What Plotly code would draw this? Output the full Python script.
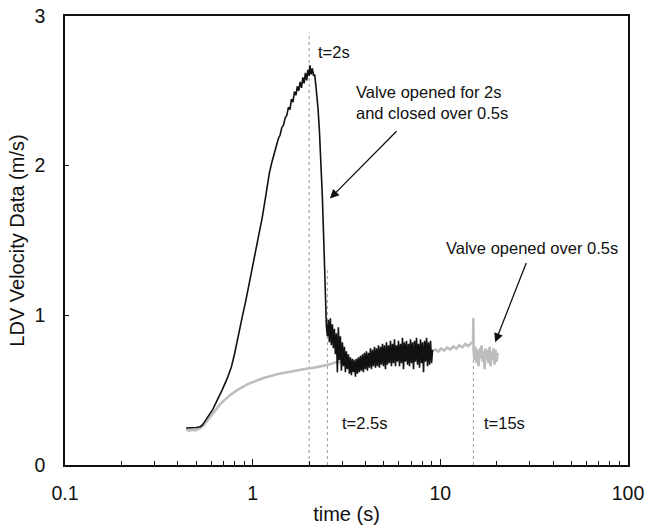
import math
import plotly.graph_objects as go

# ---- LDV velocity record: valve opened for 2 s, then closed over 0.5 s ----
rise_t = [0.442, 0.470, 0.500, 0.525, 0.540, 0.555, 0.575, 0.595, 0.612, 0.640,
          0.665, 0.690, 0.730, 0.770, 0.800, 0.828, 0.855, 0.880, 0.920, 0.960,
          1.000, 1.040, 1.080, 1.125, 1.175, 1.227, 1.270, 1.300, 1.320, 1.340,
          1.370, 1.400, 1.430, 1.460, 1.490, 1.520, 1.550, 1.580, 1.610, 1.640,
          1.670, 1.700, 1.730, 1.760, 1.790, 1.820, 1.850, 1.880, 1.910, 1.940,
          1.970, 2.000, 2.020, 2.050, 2.080, 2.110, 2.140, 2.170, 2.200, 2.230,
          2.267, 2.310, 2.352, 2.410, 2.450]
rise_v = [0.247, 0.248, 0.251, 0.256, 0.268, 0.290, 0.318, 0.345, 0.370, 0.420,
          0.460, 0.505, 0.575, 0.655, 0.740, 0.835, 0.910, 0.990, 1.100, 1.215,
          1.320, 1.420, 1.530, 1.655, 1.800, 1.950, 2.030, 2.080, 2.115, 2.130,
          2.180, 2.205, 2.255, 2.270, 2.320, 2.335, 2.390, 2.375, 2.445, 2.425,
          2.495, 2.470, 2.530, 2.500, 2.560, 2.520, 2.590, 2.550, 2.620, 2.570,
          2.640, 2.600, 2.670, 2.610, 2.650, 2.600, 2.610, 2.540, 2.470, 2.380,
          2.240, 2.020, 1.790, 1.370, 1.050]

settle_t = [2.470, 2.501, 2.531, 2.563, 2.594, 2.626, 2.659, 2.692, 2.725, 2.759,
            2.793, 2.827, 2.862, 2.898, 2.934, 2.970, 3.007, 3.044, 3.082, 3.120,
            3.158, 3.197, 3.237, 3.277, 3.317, 3.358, 3.400, 3.442, 3.485, 3.528,
            3.571, 3.615, 3.660, 3.705, 3.751, 3.797, 3.844, 3.892, 3.940, 3.989,
            4.038, 4.088, 4.139, 4.190, 4.242, 4.294, 4.347, 4.401, 4.456, 4.511,
            4.566, 4.623, 4.680, 4.738, 4.797, 4.856, 4.916, 4.977, 5.038, 5.101,
            5.164, 5.228, 5.292, 5.358, 5.424, 5.491, 5.559, 5.628, 5.697, 5.768,
            5.839, 5.911, 5.984, 6.058, 6.133, 6.209, 6.286, 6.364, 6.442, 6.522,
            6.603, 6.684, 6.767, 6.850, 6.935, 7.021, 7.108, 7.196, 7.285, 7.375,
            7.466, 7.558, 7.652, 7.746, 7.842, 7.939, 8.037, 8.137, 8.237, 8.339,
            8.442, 8.547, 8.652, 8.759, 8.868, 8.977, 9.088]
settle_v = [0.93, 0.86, 0.97, 0.82, 0.98, 0.80, 0.94, 0.78, 0.91, 0.74,
            0.88, 0.62, 0.92, 0.70, 0.86, 0.63, 0.82, 0.66, 0.79, 0.62,
            0.76, 0.64, 0.74, 0.61, 0.72, 0.60, 0.71, 0.62, 0.70, 0.59,
            0.71, 0.61, 0.72, 0.62, 0.73, 0.63, 0.74, 0.62, 0.75, 0.64,
            0.76, 0.63, 0.75, 0.65, 0.78, 0.64, 0.77, 0.66, 0.79, 0.65,
            0.78, 0.66, 0.80, 0.65, 0.79, 0.67, 0.81, 0.66, 0.80, 0.64,
            0.82, 0.67, 0.80, 0.68, 0.83, 0.66, 0.81, 0.68, 0.84, 0.66,
            0.80, 0.69, 0.83, 0.66, 0.81, 0.68, 0.85, 0.64, 0.82, 0.69,
            0.83, 0.67, 0.81, 0.66, 0.84, 0.68, 0.82, 0.64, 0.83, 0.69,
            0.85, 0.67, 0.81, 0.65, 0.84, 0.68, 0.82, 0.62, 0.83, 0.69,
            0.85, 0.66, 0.82, 0.67, 0.83, 0.68, 0.77]

# ---- LDV velocity record: valve opened over 0.5 s ----
open_t = [0.442, 0.459, 0.476, 0.494, 0.512, 0.531, 0.551, 0.572, 0.593, 0.616,
          0.639, 0.663, 0.688, 0.713, 0.740, 0.768, 0.797, 0.827, 0.858, 0.890,
          0.923, 0.958, 0.994, 1.031, 1.070, 1.110, 1.152, 1.195, 1.240, 1.286,
          1.334, 1.384, 1.436, 1.490, 1.546, 1.604, 1.664, 1.727, 1.791, 1.859,
          1.928, 2.001, 2.076, 2.154, 2.234, 2.318, 2.405, 2.495, 2.589, 2.686,
          2.787, 2.891, 3.000, 3.112, 3.229, 3.350, 3.476, 3.606, 3.741, 3.882,
          4.027, 4.178, 4.335, 4.498, 4.666, 4.841, 5.023, 5.211, 5.407, 5.609,
          5.820, 6.038, 6.265, 6.500, 6.743, 6.996, 7.259, 7.531, 7.814, 8.107,
          8.411, 8.726, 9.054, 9.393, 9.745, 10.11, 10.49, 10.88, 11.29, 11.72,
          12.16, 12.61, 13.08, 13.57, 14.08, 14.61, 14.95, 15.00,
          15.03, 15.22, 15.40, 15.59, 15.79, 15.98, 16.18, 16.38, 16.58, 16.79,
          17.00, 17.21, 17.42, 17.64, 17.85, 18.07, 18.30, 18.52, 18.75, 18.98,
          19.22, 19.46, 19.70, 19.94, 20.19]
open_v = [0.235, 0.230, 0.236, 0.232, 0.240, 0.250, 0.268, 0.295, 0.322, 0.350,
          0.375, 0.398, 0.420, 0.440, 0.455, 0.472, 0.488, 0.500, 0.512, 0.525,
          0.535, 0.545, 0.552, 0.560, 0.570, 0.574, 0.583, 0.588, 0.595, 0.600,
          0.604, 0.610, 0.614, 0.618, 0.623, 0.626, 0.630, 0.632, 0.636, 0.640,
          0.642, 0.646, 0.648, 0.651, 0.653, 0.660, 0.664, 0.668, 0.675, 0.682,
          0.686, 0.684, 0.690, 0.692, 0.690, 0.696, 0.698, 0.700, 0.703, 0.705,
          0.708, 0.706, 0.712, 0.714, 0.716, 0.718, 0.722, 0.720, 0.726, 0.728,
          0.730, 0.733, 0.731, 0.737, 0.740, 0.742, 0.745, 0.744, 0.750, 0.752,
          0.756, 0.755, 0.760, 0.772, 0.758, 0.778, 0.764, 0.786, 0.772, 0.792,
          0.778, 0.800, 0.786, 0.808, 0.794, 0.815, 0.820, 0.980,
          0.78, 0.70, 0.79, 0.68, 0.77, 0.66, 0.78, 0.71, 0.80, 0.69,
          0.76, 0.64, 0.78, 0.70, 0.77, 0.68, 0.79, 0.66, 0.76, 0.70,
          0.78, 0.67, 0.77, 0.69, 0.75]

# Reference times (s) and the height each dotted marker line reaches
marker_t = [2.0, 2.5, 15.0]
marker_top = [2.89, 1.30, 0.99]

x_major = [0.1, 1, 10, 100]
x_major_text = ["0.1", "1", "10", "100"]
x_minor = [0.2, 0.3, 0.4, 0.5, 0.6, 0.7, 0.8, 0.9,
           2, 3, 4, 5, 6, 7, 8, 9,
           20, 30, 40, 50, 60, 70, 80, 90]
y_ticks = [0, 1, 2, 3]

FONT = "Liberation Sans, Arial, sans-serif"
INK = "#111111"

fig = go.Figure()

for t, top in zip(marker_t, marker_top):
    fig.add_trace(go.Scatter(x=[t, t], y=[0, top], mode="lines",
                             line=dict(color="#9a9a9a", width=1, dash="dot"),
                             hoverinfo="skip", showlegend=False))

fig.add_trace(go.Scatter(x=open_t, y=open_v, mode="lines",
                         line=dict(color="#bdbdbd", width=2.6),
                         showlegend=False))

fig.add_trace(go.Scatter(x=rise_t + settle_t, y=rise_v + settle_v, mode="lines",
                         line=dict(color=INK, width=1.6),
                         showlegend=False))

L = math.log10


def note(text, t, v, **kw):
    fig.add_annotation(x=L(t), y=v, xref="x", yref="y", text=text,
                       showarrow=False, xanchor="left", yanchor="middle",
                       font=dict(family=FONT, size=16.5, color=INK), **kw)


note("t=2s", 2.18, 2.76)
note("Valve opened for 2s<br>and closed over 0.5s", 3.47, 2.42, align="left")
note("Valve opened over 0.5s", 10.45, 1.45)
note("t=2.5s", 2.93, 0.28)
note("t=15s", 16.7, 0.28)


def arrow(t0, v0, t1, v1):
    fig.add_annotation(x=L(t1), y=v1, ax=L(t0), ay=v0, xref="x", yref="y",
                       axref="x", ayref="y", text="", showarrow=True,
                       arrowhead=2, arrowsize=1.4, arrowwidth=1.3,
                       arrowcolor=INK)


arrow(5.95, 2.24, 2.58, 1.78)
arrow(28.9, 1.36, 19.6, 0.82)

fig.update_xaxes(type="log", range=[-1, 2], automargin=False,
                 tickvals=x_major, ticktext=x_major_text,
                 ticks="inside", ticklen=6, tickcolor=INK, tickwidth=1,
                 ticklabelstandoff=10,
                 minor=dict(tickvals=x_minor, ticks="inside", ticklen=4,
                            tickcolor=INK, tickwidth=1, showgrid=False),
                 showline=True, linecolor=INK, linewidth=1.5, mirror=True,
                 showgrid=False, zeroline=False,
                 tickfont=dict(family=FONT, size=19.5, color=INK),
                 title=dict(text="time (s)", standoff=4,
                            font=dict(family=FONT, size=20, color=INK)))

fig.update_yaxes(range=[0, 3], tickvals=y_ticks, automargin=False,
                 ticks="inside", ticklen=4, tickcolor=INK, tickwidth=1,
                 ticklabelstandoff=14,
                 showline=True, linecolor=INK, linewidth=1.5, mirror=True,
                 showgrid=False, zeroline=False,
                 tickfont=dict(family=FONT, size=19.5, color=INK),
                 title=dict(text="LDV Velocity Data (m/s)", standoff=4,
                            font=dict(family=FONT, size=20, color=INK)))

fig.update_layout(width=645, height=529,
                  margin=dict(l=65, r=17, t=16, b=64),
                  paper_bgcolor="white", plot_bgcolor="white")

fig.write_html("out.html")
